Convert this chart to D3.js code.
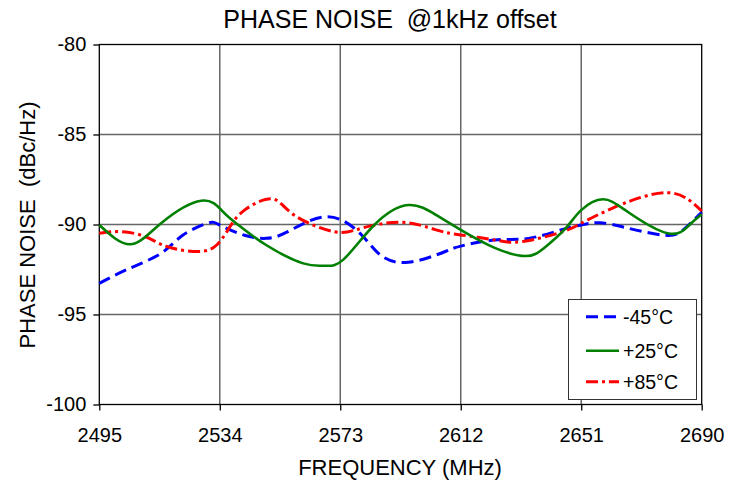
<!DOCTYPE html>
<html>
<head>
  <meta charset="utf-8">
  <title>Phase noise</title>
  <script src="https://cdnjs.cloudflare.com/ajax/libs/d3/7.8.5/d3.min.js"></script>
  <style>
    body { margin: 0; background: #fff; }
    text { font-family: "Liberation Sans", Arial, sans-serif; fill: #000; }
    .grid line { stroke: #666; stroke-width: 1.5; }
    .tick line { stroke: #000; }
  </style>
</head>
<body>
<div id="chart"></div>
<script>
// data
var xTicks = [2495, 2534, 2573, 2612, 2651, 2690];
var yTicks = [-100, -95, -90, -85, -80];

var freqM45 = [2495, 2504, 2515, 2522, 2530, 2534, 2542, 2549, 2556, 2569, 2580, 2586, 2595, 2607, 2612, 2623, 2634, 2645, 2651, 2657, 2666, 2678, 2684, 2690];
var valM45  = [-93.27, -92.5, -91.6, -90.6, -89.93, -90.03, -90.6, -90.77, -90.4, -89.57, -90.6, -91.7, -92.1, -91.5, -91.2, -90.86, -90.77, -90.27, -90.03, -89.9, -90.2, -90.6, -90.3, -89.32];

var freqP25 = [2495, 2505, 2515, 2528, 2535, 2540, 2549, 2561, 2568, 2574, 2584, 2595, 2604, 2612, 2623, 2633, 2639, 2646, 2651, 2658, 2666, 2679, 2686, 2690];
var valP25  = [-90.03, -91.1, -89.93, -88.68, -89.29, -90.03, -91.14, -92.16, -92.29, -91.95, -90.03, -88.92, -89.47, -90.3, -91.3, -91.75, -91.3, -90.2, -89.2, -88.6, -89.29, -90.49, -90.03, -89.43];

var freqP85 = [2495, 2502, 2510, 2517, 2527, 2533, 2537, 2542, 2551, 2558, 2571, 2580, 2593, 2604, 2612, 2623, 2632, 2645, 2651, 2661, 2671, 2679, 2685, 2690];
var valP85  = [-90.49, -90.4, -90.68, -91.23, -91.5, -91.14, -90.2, -89.2, -88.58, -89.47, -90.4, -90.2, -89.88, -90.3, -90.58, -90.86, -90.95, -90.4, -89.93, -89.1, -88.46, -88.23, -88.54, -89.25];

var seriesNames = ["-45\u00B0C", "+25\u00B0C", "+85\u00B0C"];

var W = 741, H = 487;
var plot = {left: 99.3, right: 701.7, top: 44.5, bottom: 404.5};

var svg = d3.select("#chart").append("svg")
    .attr("width", W)
    .attr("height", H);

var x = d3.scaleLinear().domain([2495, 2690]).range([plot.left, plot.right]);
var y = d3.scaleLinear().domain([-100, -80]).range([plot.bottom, plot.top]);

// gridlines
var grid = svg.append("g").attr("class", "grid");
grid.selectAll("line.v")
  .data(xTicks.slice(1, -1))
  .enter().append("line")
    .attr("x1", d => x(d)).attr("x2", d => x(d))
    .attr("y1", plot.top).attr("y2", plot.bottom);
grid.selectAll("line.h")
  .data(yTicks.slice(1, -1))
  .enter().append("line")
    .attr("x1", plot.left).attr("x2", plot.right)
    .attr("y1", d => y(d)).attr("y2", d => y(d));

svg.append("rect")
    .attr("x", plot.left).attr("y", plot.top)
    .attr("width", plot.right - plot.left)
    .attr("height", plot.bottom - plot.top)
    .attr("fill", "none")
    .attr("stroke", "#000")
    .attr("stroke-width", 1.3);

// axes
var xAxis = svg.append("g")
    .attr("transform", "translate(0," + plot.bottom + ")")
    .call(d3.axisBottom(x).tickValues(xTicks).tickFormat(d => String(d)).tickSize(6).tickSizeOuter(0).tickPadding(17.5));
xAxis.select(".domain").remove();
xAxis.selectAll("text").style("font-size", "20px");
xAxis.selectAll(".tick line").attr("stroke-width", 1.3);

var yAxis = svg.append("g")
    .attr("transform", "translate(" + plot.left + ",0)")
    .call(d3.axisLeft(y).tickValues(yTicks).tickFormat(d => String(d)).tickSize(6).tickSizeOuter(0).tickPadding(7));
yAxis.select(".domain").remove();
yAxis.selectAll("text").style("font-size", "20px");
yAxis.selectAll(".tick line").attr("stroke-width", 1.3);

// titles
svg.append("text")
    .attr("x", 390).attr("y", 27.5)
    .attr("text-anchor", "middle")
    .style("font-size", "25px")
    .style("white-space", "pre")
    .text("PHASE NOISE  @1kHz offset");

svg.append("text")
    .attr("x", 400).attr("y", 475)
    .attr("text-anchor", "middle")
    .style("font-size", "22px")
    .text("FREQUENCY (MHz)");

svg.append("text")
    .attr("transform", "translate(35,225) rotate(-90)")
    .attr("text-anchor", "middle")
    .style("font-size", "22px")
    .style("white-space", "pre")
    .text("PHASE NOISE  (dBc/Hz)");

// series
var line = d3.line()
    .x(d => x(d[0]))
    .y(d => y(d[1]))
    .curve(d3.curveNatural);

var series = [
  {name: seriesNames[0], data: d3.zip(freqM45, valM45), color: "#0000ff", dash: "12,6", width: 3},
  {name: seriesNames[2], data: d3.zip(freqP85, valP85), color: "#ff0000", dash: "12,4,3,4", width: 3},
  {name: seriesNames[1], data: d3.zip(freqP25, valP25), color: "#008000", dash: null, width: 2.6}
];

svg.selectAll("path.series")
  .data(series)
  .enter().append("path")
    .attr("class", "series")
    .attr("d", d => line(d.data))
    .attr("fill", "none")
    .attr("stroke", d => d.color)
    .attr("stroke-width", d => d.width)
    .attr("stroke-dasharray", d => d.dash);

// legend
var legend = svg.append("g");
legend.append("rect")
    .attr("x", 568.5).attr("y", 299.5)
    .attr("width", 128).attr("height", 100)
    .attr("fill", "#fff")
    .attr("stroke", "#333")
    .attr("stroke-width", 1);

var legendOrder = [series[0], series[2], series[1]];
var rowY = [316.7, 350.7, 381.7];
legendOrder.forEach(function(s, i) {
  legend.append("line")
      .attr("x1", 586).attr("x2", 619)
      .attr("y1", rowY[i]).attr("y2", rowY[i])
      .attr("stroke", s.color)
      .attr("stroke-width", s.width)
      .attr("stroke-dasharray", s.dash);
  legend.append("text")
      .attr("x", 623).attr("y", rowY[i] + 7)
      .style("font-size", "19.5px")
      .text(s.name);
});
</script>
</body>
</html>
